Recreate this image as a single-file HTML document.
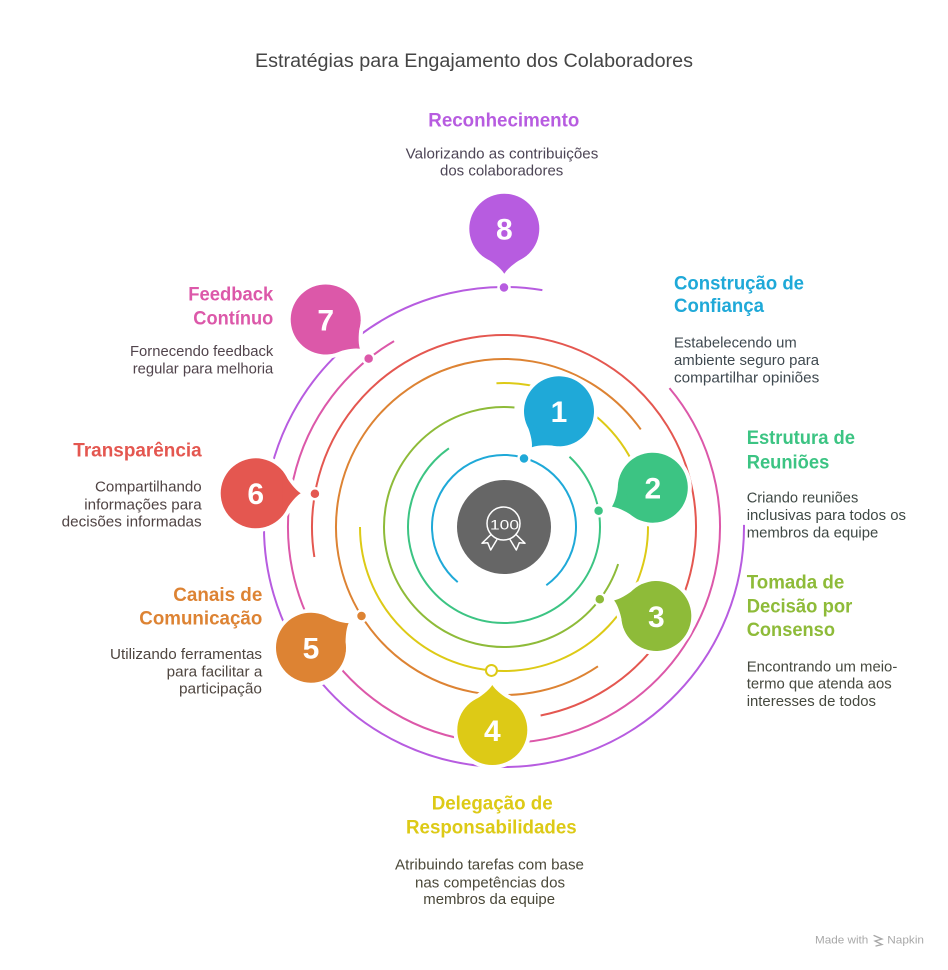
<!DOCTYPE html>
<html>
<head>
<meta charset="utf-8">
<style>
  html,body{margin:0;padding:0;background:#fff;}
  svg{display:block;}
  text{font-family:"Liberation Sans",sans-serif;}
  .t{font-weight:bold;font-size:19px;}
  .d{font-size:15px;}
  .n{font-weight:bold;font-size:30px;fill:#fff;text-anchor:middle;}
</style>
</head>
<body>
<svg width="948" height="970" viewBox="0 0 948 970" xmlns="http://www.w3.org/2000/svg">
  <defs>
    <g id="bd">
      <circle cx="0" cy="0" r="35"/>
      <path d="M 26.8,22.5 Q 37,5 45,0 Q 37,-5 26.8,-22.5 Z"/>
    </g>
  </defs>

  <!-- Title -->
  <text x="255" y="67" font-size="19" fill="#454545" textLength="438" lengthAdjust="spacingAndGlyphs">Estratégias para Engajamento dos Colaboradores</text>

  <!-- Rings -->
  <g fill="none" stroke-width="2" stroke-linecap="butt">
    <path d="M457.72,582.15 A72,72 0 1 1 546.32,585.25" stroke="#1FA9D8"/>
    <path d="M569.47,456.79 A96,96 0 1 1 448.94,448.36" stroke="#3CC483"/>
    <path d="M618.13,564.08 A120,120 0 1 1 514.46,407.46" stroke="#8EBB39"/>
    <path d="M496.46,383.2 A144,144 0 1 1 360,527" stroke="#DDCA16"/>
    <path d="M597.94,666.28 A168,168 0 1 1 640.77,429.45" stroke="#DD8333"/>
    <path d="M314.36,557.03 A192,192 0 1 1 540.63,715.47" stroke="#E45750"/>
    <path d="M669.46,388.16 A216,216 0 1 1 394.06,341.09" stroke="#DC58A9"/>
    <path d="M743.99,524.9 A240,240 0 1 1 542.37,290.09" stroke="#B75CE0"/>
  </g>

  <!-- Dots -->
  <g stroke="#fff" stroke-width="2.5">
    <circle cx="524" cy="458.5" r="5.5" fill="#1FA9D8"/>
    <circle cx="598.6" cy="510.7" r="5.5" fill="#3CC483"/>
    <circle cx="599.8" cy="599.2" r="5.5" fill="#8EBB39"/>
    <circle cx="361.5" cy="616" r="5.5" fill="#DD8333"/>
    <circle cx="314.9" cy="493.7" r="5.5" fill="#E45750"/>
    <circle cx="368.65" cy="358.67" r="5.5" fill="#DC58A9"/>
    <circle cx="504" cy="287.5" r="5.5" fill="#B75CE0"/>
  </g>
  <circle cx="491.45" cy="670.45" r="5.5" fill="#fff" stroke="#DDCA16" stroke-width="2"/>

  <!-- Center -->
  <circle cx="504" cy="527" r="47" fill="#666666"/>
  <g fill="none" stroke="#fff" stroke-width="1.5" stroke-linejoin="round">
    <circle cx="503.5" cy="523.5" r="16.5"/>
    <polyline points="491,534.5 482,543.3 487.7,542.7 490.7,550 497,539.5"/>
    <polyline points="516,534.5 525,543.3 519.3,542.7 516.3,550 510,539.5"/>
  </g>
  <text x="490" y="529.3" font-size="14" fill="#fff" textLength="29" lengthAdjust="spacingAndGlyphs">100</text>

  <!-- Badge white outlines -->
  <g fill="#fff" stroke="#fff" stroke-width="8" stroke-linejoin="round">
    <use href="#bd" transform="translate(559,411.3) rotate(127)"/>
    <use href="#bd" transform="translate(652.8,487.7) rotate(155.2)"/>
    <use href="#bd" transform="translate(656.3,616) rotate(200.4)"/>
    <use href="#bd" transform="translate(492.3,730) rotate(-90)"/>
    <use href="#bd" transform="translate(311,647.7) rotate(-33.2)"/>
    <use href="#bd" transform="translate(255.7,493.3) rotate(0)"/>
    <use href="#bd" transform="translate(325.7,319.5) rotate(40.6)"/>
    <use href="#bd" transform="translate(504.3,228.7) rotate(90)"/>
  </g>
  <!-- Badge fills -->
  <g stroke="none">
    <use href="#bd" fill="#1FA9D8" transform="translate(559,411.3) rotate(127)"/>
    <use href="#bd" fill="#3CC483" transform="translate(652.8,487.7) rotate(155.2)"/>
    <use href="#bd" fill="#8EBB39" transform="translate(656.3,616) rotate(200.4)"/>
    <use href="#bd" fill="#DDCA16" transform="translate(492.3,730) rotate(-90)"/>
    <use href="#bd" fill="#DD8333" transform="translate(311,647.7) rotate(-33.2)"/>
    <use href="#bd" fill="#E45750" transform="translate(255.7,493.3) rotate(0)"/>
    <use href="#bd" fill="#DC58A9" transform="translate(325.7,319.5) rotate(40.6)"/>
    <use href="#bd" fill="#B75CE0" transform="translate(504.3,228.7) rotate(90)"/>
  </g>
  <!-- Badge numbers -->
  <text class="n" x="559" y="422">1</text>
  <text class="n" x="652.8" y="498.5">2</text>
  <text class="n" x="656.3" y="626.8">3</text>
  <text class="n" x="492.3" y="740.8">4</text>
  <text class="n" x="311" y="658.5">5</text>
  <text class="n" x="255.7" y="504.1">6</text>
  <text class="n" x="325.7" y="330.3">7</text>
  <text class="n" x="504.3" y="239.5">8</text>

  <!-- 8 Reconhecimento -->
  <text class="t" x="428.3" y="126.7" fill="#B75CE0" textLength="151" lengthAdjust="spacingAndGlyphs">Reconhecimento</text>
  <g fill="#4d4556">
    <text class="d" x="405.7" y="158.3" textLength="192.6" lengthAdjust="spacingAndGlyphs">Valorizando as contribuições</text>
    <text class="d" x="440" y="175.5" textLength="123.3" lengthAdjust="spacingAndGlyphs">dos colaboradores</text>
  </g>

  <!-- 1 Construção de Confiança -->
  <g fill="#1FA9D8">
    <text class="t" x="674" y="289.3" textLength="130" lengthAdjust="spacingAndGlyphs">Construção de</text>
    <text class="t" x="674" y="312" textLength="90" lengthAdjust="spacingAndGlyphs">Confiança</text>
  </g>
  <g fill="#3f4950">
    <text class="d" x="674" y="347.7" textLength="122.7" lengthAdjust="spacingAndGlyphs">Estabelecendo um</text>
    <text class="d" x="674" y="365" textLength="145" lengthAdjust="spacingAndGlyphs">ambiente seguro para</text>
    <text class="d" x="674" y="382.3" textLength="145.3" lengthAdjust="spacingAndGlyphs">compartilhar opiniões</text>
  </g>

  <!-- 2 Estrutura de Reuniões -->
  <g fill="#3CC483">
    <text class="t" x="746.7" y="444" textLength="108.3" lengthAdjust="spacingAndGlyphs">Estrutura de</text>
    <text class="t" x="746.7" y="468.3" textLength="82.6" lengthAdjust="spacingAndGlyphs">Reuniões</text>
  </g>
  <g fill="#3f4945">
    <text class="d" x="746.7" y="502.7" textLength="111.6" lengthAdjust="spacingAndGlyphs">Criando reuniões</text>
    <text class="d" x="746.7" y="520" textLength="159.3" lengthAdjust="spacingAndGlyphs">inclusivas para todos os</text>
    <text class="d" x="746.7" y="537.3" textLength="131.6" lengthAdjust="spacingAndGlyphs">membros da equipe</text>
  </g>

  <!-- 3 Tomada de Decisão por Consenso -->
  <g fill="#8EBB39">
    <text class="t" x="746.7" y="588.3" textLength="97.6" lengthAdjust="spacingAndGlyphs">Tomada de</text>
    <text class="t" x="746.7" y="612.7" textLength="105.6" lengthAdjust="spacingAndGlyphs">Decisão por</text>
    <text class="t" x="746.7" y="636" textLength="88.3" lengthAdjust="spacingAndGlyphs">Consenso</text>
  </g>
  <g fill="#46493f">
    <text class="d" x="746.7" y="671.7" textLength="150.6" lengthAdjust="spacingAndGlyphs">Encontrando um meio-</text>
    <text class="d" x="746.7" y="688.3" textLength="145" lengthAdjust="spacingAndGlyphs">termo que atenda aos</text>
    <text class="d" x="746.7" y="706" textLength="129.3" lengthAdjust="spacingAndGlyphs">interesses de todos</text>
  </g>

  <!-- 4 Delegação de Responsabilidades -->
  <g fill="#DDCA16">
    <text class="t" x="431.7" y="809.3" textLength="121" lengthAdjust="spacingAndGlyphs">Delegação de</text>
    <text class="t" x="406" y="833.3" textLength="170.7" lengthAdjust="spacingAndGlyphs">Responsabilidades</text>
  </g>
  <g fill="#4a4839">
    <text class="d" x="395" y="869.3" textLength="189" lengthAdjust="spacingAndGlyphs">Atribuindo tarefas com base</text>
    <text class="d" x="415" y="887.3" textLength="150" lengthAdjust="spacingAndGlyphs">nas competências dos</text>
    <text class="d" x="423.3" y="904" textLength="131.7" lengthAdjust="spacingAndGlyphs">membros da equipe</text>
  </g>

  <!-- 5 Canais de Comunicação -->
  <g fill="#DD8333">
    <text class="t" x="173.3" y="601" textLength="89" lengthAdjust="spacingAndGlyphs">Canais de</text>
    <text class="t" x="139.3" y="624.3" textLength="123" lengthAdjust="spacingAndGlyphs">Comunicação</text>
  </g>
  <g fill="#4f4640">
    <text class="d" x="110" y="659" textLength="152" lengthAdjust="spacingAndGlyphs">Utilizando ferramentas</text>
    <text class="d" x="166.7" y="676.7" textLength="95.6" lengthAdjust="spacingAndGlyphs">para facilitar a</text>
    <text class="d" x="179" y="693.3" textLength="83" lengthAdjust="spacingAndGlyphs">participação</text>
  </g>

  <!-- 6 Transparência -->
  <text class="t" x="73.3" y="456.7" fill="#E45750" textLength="128.4" lengthAdjust="spacingAndGlyphs">Transparência</text>
  <g fill="#4f4343">
    <text class="d" x="95" y="491.7" textLength="106.7" lengthAdjust="spacingAndGlyphs">Compartilhando</text>
    <text class="d" x="84.3" y="509.3" textLength="117.4" lengthAdjust="spacingAndGlyphs">informações para</text>
    <text class="d" x="61.7" y="526.7" textLength="140" lengthAdjust="spacingAndGlyphs">decisões informadas</text>
  </g>

  <!-- 7 Feedback Contínuo -->
  <g fill="#DC58A9">
    <text class="t" x="188.3" y="300.7" textLength="85" lengthAdjust="spacingAndGlyphs">Feedback</text>
    <text class="t" x="193.3" y="324.3" textLength="80" lengthAdjust="spacingAndGlyphs">Contínuo</text>
  </g>
  <g fill="#51444c">
    <text class="d" x="130" y="356" textLength="143.3" lengthAdjust="spacingAndGlyphs">Fornecendo feedback</text>
    <text class="d" x="132.7" y="373.3" textLength="140.6" lengthAdjust="spacingAndGlyphs">regular para melhoria</text>
  </g>

  <!-- Watermark -->
  <text x="815" y="943.5" font-size="11" fill="#a8a8a8" textLength="53.3" lengthAdjust="spacingAndGlyphs">Made with</text>
  <g stroke="#a8a8a8" stroke-width="1.3" fill="none" stroke-linecap="round">
    <polyline points="874,935.5 882,939 875,941 882,944.5 876,946"/>
  </g>
  <text x="887.3" y="943.5" font-size="11" fill="#a8a8a8" textLength="36.7" lengthAdjust="spacingAndGlyphs">Napkin</text>
</svg>
</body>
</html>
